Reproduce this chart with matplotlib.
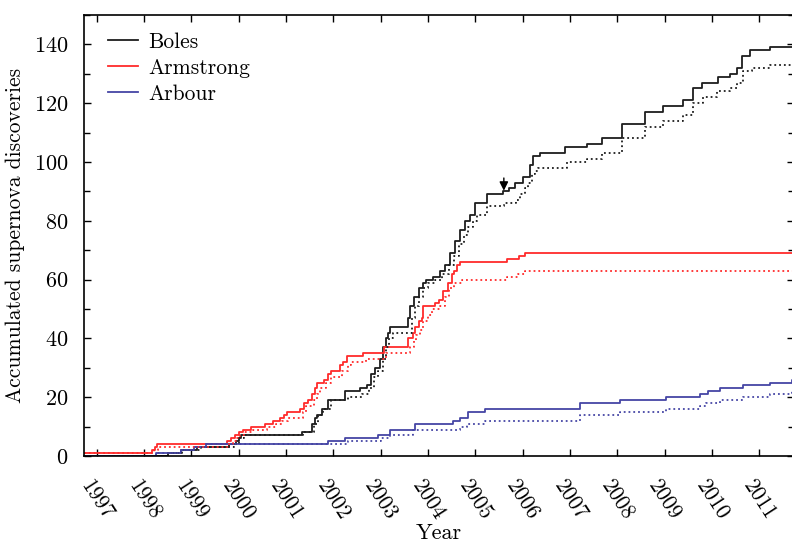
import numpy as np
import matplotlib
matplotlib.use('Agg')
import matplotlib.pyplot as plt
import matplotlib.ticker as ticker

matplotlib.rc('font', family='serif', serif=['cmr10'], size=16)
matplotlib.rc('mathtext', fontset='cm')
plt.rcParams['axes.formatter.use_mathtext'] = True

# step events: (decimal year, accumulated count)
boles_t = [1996.73, 1998.50, 1998.77, 1999.12, 1999.80, 1999.95, 2000.00, 2000.05, 2001.33, 2001.54,
           2001.60, 2001.65, 2001.75, 2001.89, 2002.25, 2002.56, 2002.70, 2002.80, 2002.88, 2002.98,
           2003.05, 2003.10, 2003.15, 2003.20, 2003.58, 2003.62, 2003.70, 2003.80, 2003.90, 2003.95,
           2004.11, 2004.25, 2004.36, 2004.47, 2004.57, 2004.68, 2004.78, 2004.89, 2004.99, 2005.24,
           2005.59, 2005.70, 2005.84, 2006.01, 2006.15, 2006.22, 2006.37, 2006.89, 2007.35, 2007.67,
           2008.09, 2008.58, 2008.97, 2009.39, 2009.60, 2009.78, 2010.13, 2010.38, 2010.52, 2010.63,
           2010.80, 2011.23]
boles_n = [0, 1, 2, 3, 4, 5, 6, 7, 8, 11,
           13, 14, 16, 19, 22, 23, 24, 28, 30, 33,
           37, 40, 42, 44, 47, 51, 54, 57, 59, 60,
           61, 63, 65, 69, 73, 77, 80, 82, 86, 89,
           90, 91, 93, 95, 99, 102, 103, 105, 106, 108,
           113, 117, 119, 121, 125, 127, 129, 130, 132, 136,
           138, 139]

boles2_t = [1996.73, 1998.50, 1998.80, 1999.20, 1999.90, 2000.00, 2000.10, 2001.35, 2001.58, 2001.68,
            2001.78, 2001.95, 2002.30, 2002.60, 2002.75, 2002.85, 2002.95, 2003.05, 2003.12, 2003.18,
            2003.25, 2003.65, 2003.72, 2003.80, 2003.90, 2004.00, 2004.15, 2004.30, 2004.45, 2004.55,
            2004.65, 2004.75, 2004.85, 2004.95, 2005.03, 2005.24, 2005.60, 2005.86, 2005.94, 2006.05,
            2006.12, 2006.19, 2006.26, 2006.33, 2006.93, 2007.35, 2007.67, 2008.09, 2008.58, 2008.97,
            2009.39, 2009.60, 2009.81, 2010.10, 2010.38, 2010.52, 2010.65, 2010.84, 2011.23]
boles2_n = [0, 1, 2, 3, 4, 6, 7, 8, 11, 14,
            16, 19, 20, 21, 23, 27, 29, 33, 37, 40,
            42, 47, 51, 54, 57, 59, 60, 62, 65, 68,
            72, 75, 78, 80, 82, 85, 86, 87, 89, 91,
            93, 96, 97, 98, 100, 101, 103, 108, 112, 114,
            116, 120, 122, 124, 125, 127, 131, 132, 133]

arm_t = [1996.73, 1998.17, 1998.22, 1998.28, 1999.76, 1999.83, 1999.92, 2000.00, 2000.08, 2000.25,
         2000.56, 2000.73, 2000.87, 2000.95, 2001.01, 2001.30, 2001.37, 2001.47, 2001.54, 2001.60,
         2001.65, 2001.80, 2001.89, 2001.95, 2002.14, 2002.20, 2002.28, 2002.63, 2003.06, 2003.58,
         2003.68, 2003.72, 2003.80, 2003.87, 2003.90, 2004.15, 2004.22, 2004.32, 2004.43, 2004.50,
         2004.54, 2004.60, 2004.68, 2005.66, 2005.91, 2006.05]
arm_n = [1, 2, 3, 4, 5, 6, 7, 8, 9, 10,
         11, 12, 13, 14, 15, 16, 18, 19, 21, 23,
         25, 26, 28, 29, 31, 32, 34, 35, 37, 40,
         42, 44, 46, 47, 51, 52, 53, 56, 59, 62,
         63, 65, 66, 67, 68, 69]

arm2_t = [1996.73, 1998.20, 1998.30, 1999.80, 1999.87, 1999.95, 2000.03, 2000.12, 2000.30, 2000.60,
          2000.78, 2000.92, 2001.05, 2001.35, 2001.42, 2001.58, 2001.65, 2001.72, 2001.85, 2001.95,
          2002.18, 2002.30, 2002.38, 2002.68, 2003.10, 2003.62, 2003.70, 2003.75, 2003.82, 2003.90,
          2004.00, 2004.08, 2004.25, 2004.35, 2004.45, 2004.55, 2004.71, 2005.66, 2005.90, 2006.05]
arm2_n = [1, 2, 3, 4, 5, 6, 7, 8, 9, 10,
          11, 12, 13, 15, 17, 19, 21, 23, 25, 27,
          29, 31, 32, 33, 35, 37, 39, 41, 43, 46,
          48, 50, 51, 54, 57, 59, 60, 61, 62, 63]

arb_t = [1996.73, 1998.25, 1998.77, 1999.06, 1999.30, 2001.89, 2002.25, 2002.95, 2003.20, 2003.72,
         2004.53, 2004.68, 2004.85, 2005.20, 2007.20, 2008.06, 2009.03, 2009.75, 2009.92, 2010.16,
         2010.65, 2011.23, 2011.68]
arb_n = [0, 1, 2, 3, 4, 5, 6, 7, 9, 11,
         12, 13, 15, 16, 18, 19, 20, 21, 22, 23,
         24, 25, 26]

arb2_t = [1996.73, 1998.25, 1998.77, 1999.06, 1999.30, 2002.30, 2003.00, 2003.20, 2003.69, 2004.68,
          2004.82, 2005.20, 2007.20, 2008.06, 2009.03, 2009.75, 2009.88, 2010.16, 2010.65, 2011.23,
          2011.68]
arb2_n = [0, 1, 2, 3, 4, 5, 6, 7, 9, 10,
          11, 12, 14, 15, 16, 17, 18, 19, 20, 21,
          22]

years = list(range(1997, 2012))
x_end = 2011.73

black = '#1e1e1e'
red = '#ff2b2b'
blue = '#4545a5'


def steps(t, n):
    return list(t) + [x_end], list(n) + [n[-1]]


fig = plt.figure(figsize=(7.92, 5.43), dpi=100)
ax = fig.add_axes([84 / 792, 1 - 456 / 543, 710 / 792, 441 / 543])

for t, n, c, ls, lab in [(boles_t, boles_n, black, '-', 'Boles'),
                         (arm_t, arm_n, red, '-', 'Armstrong'),
                         (arb_t, arb_n, blue, '-', 'Arbour'),
                         (boles2_t, boles2_n, black, ':', None),
                         (arm2_t, arm2_n, red, ':', None),
                         (arb2_t, arb2_n, blue, ':', None)]:
    x, y = steps(t, n)
    ax.step(x, y, where='post', color=c, ls=ls, lw=1.3, label=lab)

ax.annotate('', xy=(2005.6, 89.3), xytext=(2005.6, 95.5),
            arrowprops=dict(arrowstyle='-|>', color='k', lw=1.0, mutation_scale=13))

ax.set_xlim(1996.73, x_end)
ax.set_ylim(0, 150)
ax.set_xticks(years)
ax.set_xticklabels([str(y) for y in years], rotation=-57, ha='center', fontsize=15.5)
ax.yaxis.set_major_locator(ticker.MultipleLocator(20))
ax.yaxis.set_minor_locator(ticker.MultipleLocator(10))
ax.tick_params(which='both', direction='in', top=True, right=True, width=1.0)
ax.tick_params(which='major', length=5)
ax.tick_params(which='minor', length=4)
ax.tick_params(axis='x', pad=15)
ax.tick_params(axis='y', pad=11)
for s in ax.spines.values():
    s.set_linewidth(1.2)

ax.set_xlabel('Year', labelpad=0)
ax.set_ylabel('Accumulated supernova discoveries', labelpad=7, fontsize=15.5)

ax.legend(loc='upper left', frameon=False, handlelength=1.4, handletextpad=0.5,
          labelspacing=0.3, borderaxespad=0.3, bbox_to_anchor=(0.012, 0.995), fontsize=15.5)

plt.savefig('out.png', dpi=100)
